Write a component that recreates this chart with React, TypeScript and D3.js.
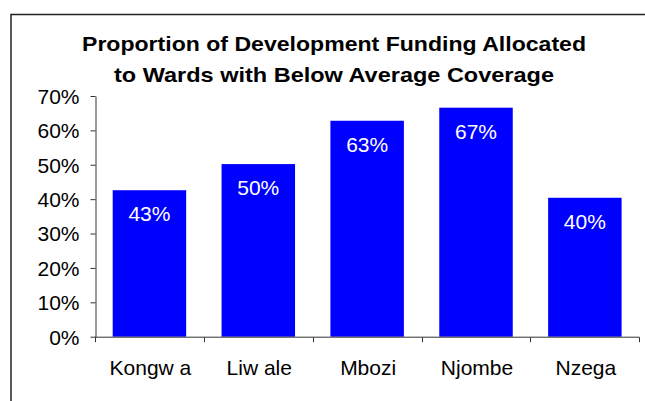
import { useRef, useEffect } from 'react';
import * as d3 from 'd3';

// values
const wards = ['Kongw a', 'Liw ale', 'Mbozi', 'Njombe', 'Nzega'];
const funding = [0.426, 0.502, 0.628, 0.666, 0.404];
const yTicks = [0, 0.1, 0.2, 0.3, 0.4, 0.5, 0.6, 0.7];
const titleLines = [
    'Proportion of Development Funding Allocated',
    'to Wards with Below Average Coverage',
];

const FONT = '"Liberation Sans", Arial, sans-serif';

const App: React.FC = () => {
    const svgRef = useRef<SVGSVGElement>(null);

    useEffect(() => {
        if (!svgRef.current) return;
        const svg = d3.select(svgRef.current);
        svg.selectAll('*').remove();

        const width = 645;
        const height = 401;

        svg.append('rect')
            .attr('width', width)
            .attr('height', height)
            .attr('fill', '#fff');

        // outer frame, cut off on the right and bottom like the picture
        svg.append('rect')
            .attr('x', 11)
            .attr('y', 14.5)
            .attr('width', width)
            .attr('height', height)
            .attr('fill', 'none')
            .attr('stroke', '#222')
            .attr('stroke-width', 1.5);

        // title (the original renders a bit wide, so stretch to its measured width)
        const titleWidths = [504, 440];
        svg.selectAll('.title')
            .data(titleLines)
            .join('text')
            .attr('class', 'title')
            .attr('x', 334)
            .attr('y', (_, i) => 50.7 + i * 31)
            .attr('text-anchor', 'middle')
            .attr('textLength', (_, i) => titleWidths[i])
            .attr('lengthAdjust', 'spacingAndGlyphs')
            .style('font-family', FONT)
            .style('font-weight', 'bold')
            .style('font-size', '20.5px')
            .style('fill', '#000')
            .text(d => d);

        const x = d3.scaleBand()
            .domain(wards)
            .range([95, 639.3])
            .paddingInner(0.325)
            .paddingOuter(0.1625);

        const y = d3.scaleLinear()
            .domain([0, 0.7])
            .range([336.7, 96]);

        const data = wards.map((w, i) => ({ ward: w, value: funding[i] }));

        // bars
        svg.selectAll('.bar')
            .data(data)
            .join('rect')
            .attr('class', 'bar')
            .attr('x', d => x(d.ward)!)
            .attr('y', d => y(d.value))
            .attr('width', x.bandwidth())
            .attr('height', d => y(0) - y(d.value))
            .attr('fill', '#0000FF');

        // value labels
        svg.selectAll('.val')
            .data(data)
            .join('text')
            .attr('class', 'val')
            .attr('x', d => x(d.ward)! + x.bandwidth() / 2)
            .attr('y', d => y(d.value) + 31)
            .attr('text-anchor', 'middle')
            .style('font-family', FONT)
            .style('font-size', '21px')
            .style('fill', '#fff')
            .text(d => d3.format('.0%')(d.value));

        // y axis
        const yAxis = svg.append('g')
            .attr('transform', 'translate(95.5,0)')
            .call(d3.axisLeft(y)
                .tickValues(yTicks)
                .tickFormat(d3.format('.0%') as any)
                .tickSize(5)
                .tickSizeOuter(0)
                .tickPadding(11));
        yAxis.selectAll('.domain, .tick line').attr('stroke', '#333');
        yAxis.selectAll('text')
            .attr('dy', '0.35em')
            .style('font-family', FONT)
            .style('font-size', '21px')
            .style('fill', '#000');

        // x axis baseline with ticks between categories
        const [x0, x1] = x.range();
        const bounds = d3.range(wards.length + 1).map(i => x0 + i * x.step());
        const xAxis = svg.append('g').attr('transform', `translate(0,${y(0) + 0.5})`);
        xAxis.append('line')
            .attr('x1', x0)
            .attr('x2', x1)
            .attr('stroke', '#333');
        xAxis.selectAll('.xtick')
            .data(bounds)
            .join('line')
            .attr('class', 'xtick')
            .attr('x1', d => Math.round(d) + 0.5)
            .attr('x2', d => Math.round(d) + 0.5)
            .attr('y1', 0)
            .attr('y2', 5)
            .attr('stroke', '#333');

        svg.selectAll('.cat')
            .data(wards)
            .join('text')
            .attr('class', 'cat')
            .attr('x', d => x(d)! + x.bandwidth() / 2 + 1)
            .attr('y', 375)
            .attr('text-anchor', 'middle')
            .style('font-family', FONT)
            .style('font-size', '21px')
            .style('fill', '#000')
            .text(d => d);
    }, []);

    return (
        <div style={{ position: 'absolute', left: 0, top: 0 }}>
            <svg ref={svgRef} width={645} height={401} style={{ display: 'block' }}></svg>
        </div>
    );
};

export default App;
